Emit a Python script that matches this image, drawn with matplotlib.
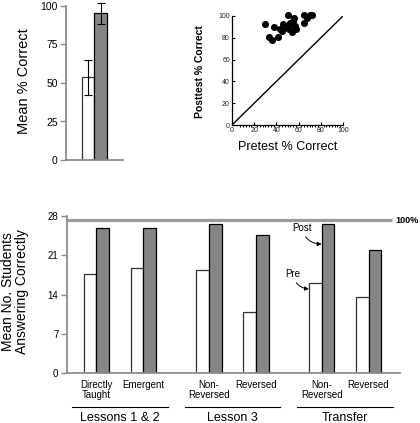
import matplotlib
matplotlib.use("Agg")
import matplotlib.pyplot as plt
from matplotlib.lines import Line2D
import matplotlib.transforms as mtransforms
import numpy as np

plt.rcParams['font.family'] = ['Liberation Sans', 'DejaVu Sans']

# ---- data ----
summary_labels = ["Pre", "Post"]
summary_means = [53.7, 95.2]
summary_err = [11.4, 7.0]

pre_scores = [30, 33, 36, 38, 41, 43.5, 46, 48, 50, 51, 52.5, 54, 55, 57, 58, 56, 64.5, 65, 67.5, 70.5, 72, 50, 45]
post_scores = [93, 80.6, 78, 90, 80.6, 88, 93, 91, 101, 88, 94, 85, 95, 91, 88, 98, 94, 101, 98, 101, 101, 89, 86]

categories = ["Directly\nTaught", "Emergent", "Non-\nReversed", "Reversed", "Non-\nReversed", "Reversed"]
groups = ["Lessons 1 & 2", "Lesson 3", "Transfer"]
pre_counts = [17.7, 18.7, 18.3, 10.9, 16.1, 13.5]
post_counts = [25.9, 25.9, 26.5, 24.6, 26.5, 22.0]
ceiling = 27.2

W, H = 420, 423
fig = plt.figure(figsize=(W / 100, H / 100), dpi=100)

def rect(l, t, r, b):
    return [l / W, 1 - b / H, (r - l) / W, (b - t) / H]

spine_gray = "#8c8c8c"
bar_gray = "#858585"

# ---- top-left summary bars ----
ax1 = fig.add_axes(rect(66, 6, 123, 160))
xpos = np.arange(len(summary_means))
ax1.bar(xpos, summary_means, width=1.0, color=["white", bar_gray],
        edgecolor=["#333333", "black"], linewidth=0.9, zorder=2)
ax1.errorbar(xpos, summary_means, yerr=summary_err, fmt="none", ecolor="black",
             elinewidth=0.8, capsize=2.6, capthick=0.8, clip_on=False, zorder=3)
ax1.set_xlim(-1.76, 2.8)
ax1.set_ylim(0, 100)
ax1.set_yticks([0, 25, 50, 75, 100])
ax1.set_xticks([])
for s in ["top", "right"]:
    ax1.spines[s].set_visible(False)
for s in ["left", "bottom"]:
    ax1.spines[s].set_color(spine_gray)
    ax1.spines[s].set_linewidth(1.3)
ax1.tick_params(axis="y", direction="out", length=4, width=1, color=spine_gray,
                labelsize=7.5, pad=2)
fig.text(24 / W, 1 - 81 / H, "Mean % Correct", rotation=90, ha="center", va="center",
         fontsize=10.5)

# ---- scatter ----
ax2 = fig.add_axes(rect(232, 16, 343, 125))
ax2.scatter(pre_scores, post_scores, s=26, color="black", zorder=3, clip_on=False,
            linewidths=0)
ax2.plot([0, 100], [0, 100], color="black", linewidth=1.0)
ax2.set_xlim(0, 100)
ax2.set_ylim(0, 100)
ax2.set_xticks(np.arange(0, 101, 20))
ax2.set_yticks(np.arange(0, 101, 20))
ax2.set_xticks(np.arange(7.5, 100, 2.5), minor=True)
for s in ["top", "right"]:
    ax2.spines[s].set_visible(False)
for s in ["left", "bottom"]:
    ax2.spines[s].set_linewidth(0.9)
ax2.tick_params(axis="both", which="major", direction="in", length=2.5, width=0.8,
                labelsize=5, pad=1.5, labelcolor="#222222")
ax2.tick_params(axis="x", which="minor", direction="out", length=1.2, width=0.7)
ax2.set_xlabel("Pretest % Correct", fontsize=9, labelpad=5)
fig.text(200 / W, 1 - 72 / H, "Posttest % Correct", rotation=90, ha="center",
         va="center", fontsize=7.5, fontweight="bold")

# ---- bottom grouped bars ----
ax3 = fig.add_axes(rect(66.7, 216, 400, 373))
centers = np.array([0, 1, 2.4, 3.4, 4.8, 5.8])
bw = 0.27
ax3.bar(centers - bw / 2, pre_counts, width=bw, color="white", edgecolor="#333333",
        linewidth=0.9, zorder=2)
ax3.bar(centers + bw / 2, post_counts, width=bw, color=bar_gray, edgecolor="black",
        linewidth=0.9, zorder=2)
ax3.set_xlim(-0.63, 6.47)
ax3.set_ylim(0, 28)
ax3.set_yticks([0, 7, 14, 21, 28])
ax3.set_xticks(centers)
ax3.set_xticklabels(categories, fontsize=7, linespacing=0.95)
ax3.tick_params(axis="x", length=0, pad=5)
ax3.tick_params(axis="y", direction="out", length=4, width=1, color=spine_gray,
                labelsize=7, pad=2)
for s in ["top", "right"]:
    ax3.spines[s].set_visible(False)
for s in ["left", "bottom"]:
    ax3.spines[s].set_color(spine_gray)
    ax3.spines[s].set_linewidth(1.3)

ax3.plot([0, 0.976], [ceiling, ceiling], transform=ax3.get_yaxis_transform(),
         color="#9a9a9a", linewidth=2.3, clip_on=False, zorder=1, solid_capstyle="butt")
ax3.text(0.985, ceiling, "100%", transform=ax3.get_yaxis_transform(), ha="left",
         va="center", fontsize=6.5, fontweight="bold")

trans = mtransforms.blended_transform_factory(ax3.transData, ax3.transAxes)
group_centers = [0.5, 2.9, 5.3]
for gname, gc in zip(groups, group_centers):
    ax3.add_line(Line2D([gc - 1.02, gc + 1.02], [-0.215, -0.215], transform=trans,
                        color="black", linewidth=0.8, clip_on=False))
    ax3.text(gc, -0.287, gname, transform=trans, ha="center", va="center", fontsize=9)

ax3.annotate("Post", xy=(4.8, 23.0), xytext=(4.38, 25.9), fontsize=7,
             ha="center", va="center",
             arrowprops=dict(arrowstyle="-|>", color="black", lw=0.7,
                             connectionstyle="arc3,rad=0.4", mutation_scale=6,
                             shrinkA=1, shrinkB=0))
ax3.annotate("Pre", xy=(4.53, 15.0), xytext=(4.19, 17.7), fontsize=7,
             ha="center", va="center",
             arrowprops=dict(arrowstyle="-|>", color="black", lw=0.7,
                             connectionstyle="arc3,rad=0.4", mutation_scale=6,
                             shrinkA=1, shrinkB=0))

fig.text(15 / W, 1 - 292 / H, "Mean No. Students\nAnswering Correctly", rotation=90,
         ha="center", va="center", fontsize=10, multialignment="center",
         linespacing=1.0)

fig.savefig("out.png", dpi=100)
